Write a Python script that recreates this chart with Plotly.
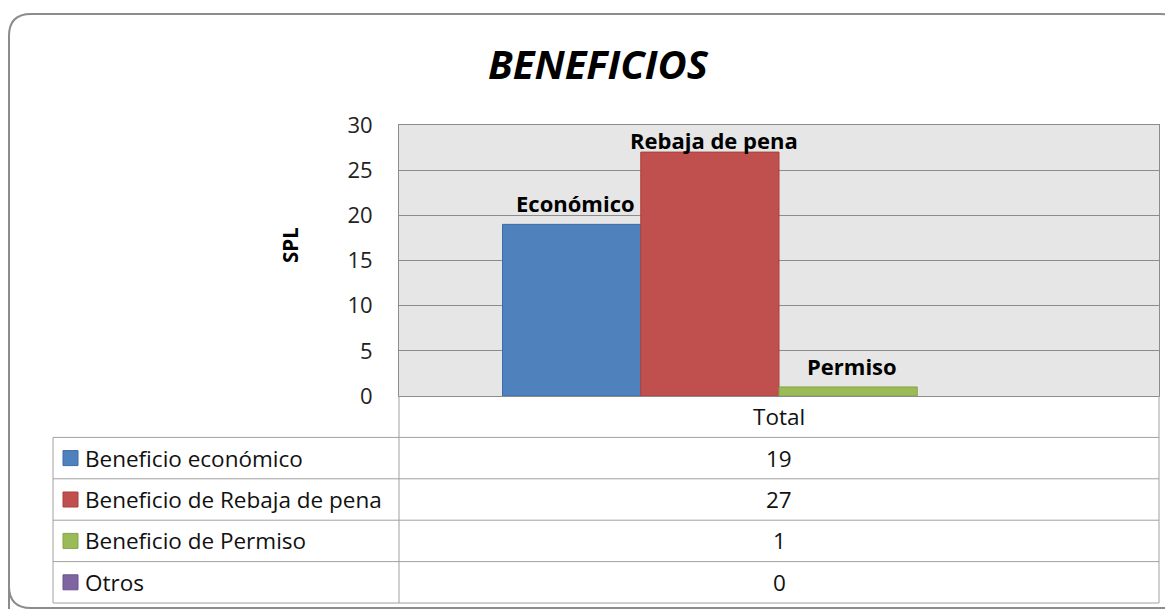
import plotly.graph_objects as go

# ---- data ----
category = ["Total"]
series_names = ["Beneficio económico", "Beneficio de Rebaja de pena", "Beneficio de Permiso", "Otros"]
series_labels = ["Económico", "Rebaja de pena", "Permiso", ""]
values = [19, 27, 1, 0]
colors = ["#4F81BD", "#C0504D", "#9BBB59", "#8064A2"]
edge_colors = ["#3C6CA6", "#A8403D", "#85A547", "#6B5290"]
y_ticks = [0, 5, 10, 15, 20, 25, 30]

W, H = 1173, 609
OFF = 8  # page body margin
FONT = "Open Sans"


def px(x):
    return (x - OFF) / W


def py(y):
    return 1 - (y - OFF) / H


# layout geometry (page pixels)
plot_l, plot_r, plot_t, plot_b = 399, 1159, 125, 396
y_max = 30
ppu = (plot_b - plot_t) / y_max
tab_l = 53
row_h = 41.4
bargap = 0.2724
bar_w = (plot_r - plot_l) * (1 - bargap) / len(values)

fig = go.Figure()
for name, v, c, ec in zip(series_names, values, colors, edge_colors):
    fig.add_trace(go.Bar(
        x=category, y=[v], name=name,
        marker=dict(color=c, line=dict(color=ec, width=1 if v > 0 else 0)),
        showlegend=False, hoverinfo="name+y",
    ))

shapes = []
annotations = []

# data labels above bars (kept inside the plot area)
n = len(values)
for i, (lab, v) in enumerate(zip(series_labels, values)):
    if not lab:
        continue
    y_lab = min(v + 21 / ppu, y_max - 15 / ppu)
    annotations.append(dict(x=category[0], y=y_lab, xref="x", yref="y", text=lab,
                            xshift=(i - (n - 1) / 2) * bar_w + 4,
                            showarrow=False, xanchor="center", yanchor="middle",
                            font=dict(family=FONT, size=22, color="#000000", weight="bold")))

# outer rounded frame
r = 22
x0, y0, x1, y1 = 9, 14, 1182, 608
path = (f"M {px(x0)} {py(y1 + 20)} L {px(x0)} {py(y0 + r)} "
        f"Q {px(x0)} {py(y0)} {px(x0 + r)} {py(y0)} "
        f"L {px(x1 - r)} {py(y0)} Q {px(x1)} {py(y0)} {px(x1)} {py(y0 + r)}")
shapes.append(dict(type="path", xref="paper", yref="paper", path=path,
                   line=dict(color="#8C8C8C", width=2)))
path2 = (f"M {px(x0)} {py(y1 - r)} Q {px(x0)} {py(y1)} {px(x0 + r)} {py(y1)} L {px(W + 30)} {py(y1)}")
shapes.append(dict(type="path", xref="paper", yref="paper", path=path2,
                   line=dict(color="#8C8C8C", width=2)))

# data table
line_c = "#A0A0A0"
rows_y = [plot_b + row_h * (i + 1) for i in range(n + 1)]
for yy in rows_y:
    shapes.append(dict(type="line", xref="paper", yref="paper",
                       x0=px(tab_l), x1=px(plot_r), y0=py(yy), y1=py(yy),
                       line=dict(color=line_c, width=1)))
shapes.append(dict(type="line", xref="paper", yref="paper", x0=px(tab_l), x1=px(tab_l),
                   y0=py(rows_y[0]), y1=py(rows_y[-1]), line=dict(color=line_c, width=1)))
for xx in (plot_l, plot_r):
    shapes.append(dict(type="line", xref="paper", yref="paper", x0=px(xx), x1=px(xx),
                       y0=py(plot_b), y1=py(rows_y[-1]), line=dict(color=line_c, width=1)))

tfont = dict(family=FONT, size=22.5, color="#111111")
annotations.append(dict(x=px((plot_l + plot_r) / 2), y=py(plot_b + row_h / 2), xref="paper", yref="paper",
                        text=category[0], showarrow=False, xanchor="center", yanchor="middle", font=tfont))
for i, (name, v, c, ec) in enumerate(zip(series_names, values, colors, edge_colors)):
    yc = rows_y[i] + row_h / 2
    shapes.append(dict(type="rect", xref="paper", yref="paper",
                       x0=px(63), x1=px(78), y0=py(yc - 7.5), y1=py(yc + 7.5),
                       fillcolor=c, line=dict(color=ec, width=1)))
    annotations.append(dict(x=px(83), y=py(yc), xref="paper", yref="paper", text=name,
                            showarrow=False, xanchor="left", yanchor="middle", font=tfont))
    annotations.append(dict(x=px((plot_l + plot_r) / 2), y=py(yc), xref="paper", yref="paper",
                            text=str(v), showarrow=False, xanchor="center", yanchor="middle", font=tfont))

# y-axis title
annotations.append(dict(x=px(290), y=py(245), xref="paper", yref="paper", text="SPL",
                        textangle=-90, showarrow=False, xanchor="center", yanchor="middle",
                        font=dict(family=FONT, size=20.5, color="#000000", weight="bold")))

fig.update_layout(
    width=W, height=H,
    margin=dict(l=0, r=0, t=0, b=0, autoexpand=False),
    paper_bgcolor="white", plot_bgcolor="#E6E6E6",
    barmode="group", bargap=bargap, bargroupgap=0,
    title=dict(text="BENEFICIOS", x=px(598), y=py(65), xanchor="center", yanchor="middle",
               xref="paper", yref="paper",
               font=dict(family=FONT, size=40, color="#000000", weight="bold", style="italic")),
    xaxis=dict(domain=[px(plot_l), px(plot_r)], showticklabels=False, showgrid=False, automargin=False,
               showline=True, linecolor="#8C8C8C", linewidth=1, mirror=True, ticks="", zeroline=False),
    yaxis=dict(domain=[py(plot_b), py(plot_t)], range=[0, y_max], tickvals=y_ticks, automargin=False,
               showgrid=True, gridcolor="#8C8C8C", gridwidth=1,
               showline=True, linecolor="#8C8C8C", linewidth=1, mirror=True, zeroline=False,
               ticks="outside", ticklen=0, ticklabelstandoff=21,
               tickfont=dict(family=FONT, size=22, color="#222222")),
    shapes=shapes,
    annotations=annotations,
)

fig.write_html("out.html")
